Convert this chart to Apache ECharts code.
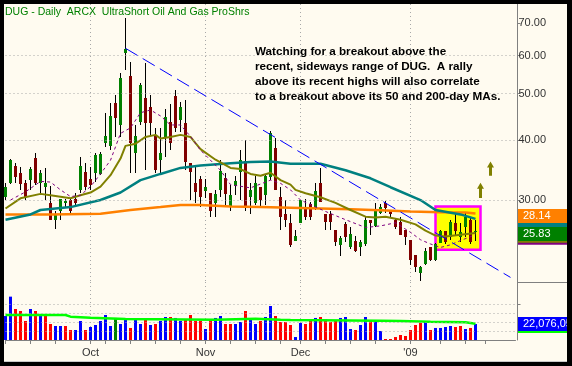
<!DOCTYPE html>
<html><head><meta charset="utf-8">
<script src="https://cdn.jsdelivr.net/npm/echarts@6/dist/echarts.min.js"></script>
<style>html,body{margin:0;padding:0;background:#000;}#c{width:572px;height:366px;}</style>
</head><body><div id="c"></div>
<script>
// ---------------- DATA ----------------
const dates = [
'2008-09-08','2008-09-09','2008-09-10','2008-09-11','2008-09-12','2008-09-15','2008-09-16','2008-09-17','2008-09-18','2008-09-19','2008-09-22','2008-09-23','2008-09-24','2008-09-25','2008-09-26','2008-09-29','2008-09-30',
'2008-10-01','2008-10-02','2008-10-03','2008-10-06','2008-10-07','2008-10-08','2008-10-09','2008-10-10','2008-10-13','2008-10-14','2008-10-15','2008-10-16','2008-10-17','2008-10-20','2008-10-21','2008-10-22','2008-10-23','2008-10-24','2008-10-27','2008-10-28','2008-10-29','2008-10-30','2008-10-31',
'2008-11-03','2008-11-04','2008-11-05','2008-11-06','2008-11-07','2008-11-10','2008-11-11','2008-11-12','2008-11-13','2008-11-14','2008-11-17','2008-11-18','2008-11-19','2008-11-20','2008-11-21','2008-11-24','2008-11-25','2008-11-26','2008-11-28',
'2008-12-01','2008-12-02','2008-12-03','2008-12-04','2008-12-05','2008-12-08','2008-12-09','2008-12-10','2008-12-11','2008-12-12','2008-12-15','2008-12-16','2008-12-17','2008-12-18','2008-12-19','2008-12-22','2008-12-23','2008-12-24','2008-12-26','2008-12-29','2008-12-30','2008-12-31',
'2009-01-02','2009-01-05','2009-01-06','2009-01-07','2009-01-08','2009-01-09','2009-01-12','2009-01-13','2009-01-14','2009-01-15','2009-01-16','2009-01-20','2009-01-21','2009-01-22'];
const futureDates = ['2009-01-23','2009-01-26','2009-01-27','2009-01-28','2009-01-29','2009-01-30','2009-02-02','2009-02-03'];

const opens = [30.4,32.6,35.4,34.1,32.6,33.0,36.7,32.6,31.9,29.6,
27.2,28.4,29.6,30.0,30.1,31.5,34.3,33.2,34.1,34.0,
39.4,38.9,47.8,43.0,60.7,54.4,37.6,43.6,48.9,46.9,
41.0,36.3,40.4,43.6,49.4,44.0,43.4,35.8,32.6,33.2,
31.3,31.0,29.6,31.5,33.3,29.2,32.1,34.3,36.2,30.4,
29.6,31.9,30.7,33.5,38.5,30.4,28.0,26.9,24.6,26.9,
28.9,29.4,28.9,32.6,28.0,28.1,26.0,24.2,26.7,23.9,
24.6,23.9,24.3,27.3,26.5,28.2,29.6,28.4,27.3,27.0,
26.0,24.8,23.0,21.1,22.1,23.9,22.5,24.4,25.9,25.1,
26.9,25.1,26.4,27.3,25.7];
const closes = [31.9,36.3,33.5,32.4,30.4,34.8,32.6,34.1,32.6,27.3,
28.0,30.1,29.8,28.5,29.6,35.3,31.9,32.3,37.2,37.4,
40.8,44.9,44.5,53.8,61.9,39.4,40.8,52.1,43.4,43.4,
34.6,37.6,44.7,39.4,42.4,46.9,36.0,34.3,31.2,30.4,
31.9,28.4,30.9,34.5,30.9,30.7,32.9,36.3,29.0,31.5,
32.6,30.0,33.6,41.4,31.5,27.7,27.3,24.2,25.2,30.0,
27.7,27.7,31.3,29.7,27.0,27.0,24.5,25.0,25.1,25.5,
23.5,24.5,27.3,26.9,28.5,29.0,28.9,28.0,26.3,25.4,
25.1,22.5,21.8,21.8,23.5,22.5,24.3,25.8,24.5,27.0,
25.8,25.7,27.6,24.5,25.83];
const highs = [32.6,36.5,35.8,35.1,33.0,35.1,37.6,34.6,35.0,32.1,
28.5,30.1,30.1,30.1,31.0,36.9,35.8,35.1,37.6,37.8,
45.5,47.8,49.6,55.2,71.8,58.1,43.0,52.6,57.9,49.6,
42.4,42.4,46.4,47.5,50.9,48.0,48.5,35.8,35.3,33.6,
33.2,31.0,31.5,36.3,34.1,32.3,33.6,38.1,40.0,32.6,
33.6,31.9,33.8,41.8,40.4,31.9,30.0,28.0,26.0,30.0,
30.1,29.7,32.6,35.0,28.0,28.4,26.0,25.2,27.0,26.4,
25.2,24.8,27.6,27.3,29.6,29.4,29.8,28.6,27.4,27.6,
26.0,24.8,23.0,21.9,23.8,23.9,24.4,26.0,25.9,27.2,
28.2,26.9,28.2,27.6,27.3];
const lows = [30.0,32.4,32.6,31.5,30.0,31.5,32.3,30.7,30.0,27.2,
26.1,27.2,28.9,28.2,29.0,31.0,31.5,31.5,32.7,33.8,
38.7,38.1,40.6,40.6,55.9,34.1,34.1,43.0,34.6,41.0,
34.1,34.1,36.9,38.1,41.6,41.6,34.6,30.0,29.6,29.0,
30.3,27.7,27.7,30.4,29.0,28.4,30.7,30.0,28.4,28.0,
29.3,29.0,29.3,33.0,31.5,26.0,26.4,23.9,24.6,26.9,
27.3,27.3,28.6,29.7,26.0,26.0,24.1,22.9,24.5,23.7,
23.4,22.9,24.1,25.4,26.4,28.0,28.2,27.6,26.1,25.4,
24.2,22.0,21.2,20.3,22.0,22.4,22.4,24.4,24.3,24.8,
25.4,24.5,25.1,24.3,24.6];
// volume in millions of shares
const volumes = [33.1,59.8,42.8,40.0,26.2,42.8,40.0,33.1,34.5,22.1,
19.3,19.3,19.3,13.8,13.8,26.2,13.8,17.9,20.7,26.2,
34.5,19.3,30.4,22.1,29.0,16.6,27.6,22.1,29.0,20.7,
22.1,26.2,31.7,31.7,30.4,26.2,29.0,34.5,26.2,26.2,
15.2,27.6,30.4,33.1,22.1,22.1,22.1,24.8,40.0,29.0,
22.1,26.2,31.7,46.9,33.1,24.8,24.8,20.7,4.1,23.5,
22.1,26.2,30.4,31.7,29.0,24.8,26.2,30.4,31.7,15.2,
13.8,20.7,31.7,27.6,26.2,12.4,1.4,1.4,4.1,6.9,
5.5,13.8,20.7,23.5,24.8,13.8,16.6,16.6,17.9,19.3,
17.9,19.3,15.2,16.6,22.076];
const volDir = ['u','u','d','d','d','u','d','u','d','d',
'u','u','d','d','u','u','d','u','u','u',
'u','u','n','u','u','d','u','u','d','u',
'd','u','u','d','u','u','d','d','d','d',
'u','d','u','u','d','d','u','u','d','u',
'u','d','u','u','d','d','d','d','u','u',
'd','d','u','d','d','d','d','u','u','u',
'd','u','u','d','u','u','d','d','d','d',
'd','d','d','d','u','d','u','u','u','u',
'd','d','u','d','u'];

const ma10 = [['2008-09-09',30.0],['2008-09-12',31.2],['2008-09-17',32.8],['2008-09-19',32.7],['2008-09-23',31.5],['2008-09-25',30.5],['2008-09-29',30.7],['2008-10-01',32.0],['2008-10-03',34.0],['2008-10-07',36.3],['2008-10-09',41.3],['2008-10-13',42.4],['2008-10-15',45.6],['2008-10-17',46.2],['2008-10-21',44.9],['2008-10-23',43.0],['2008-10-27',43.0],['2008-10-29',40.7],['2008-10-31',38.1],['2008-11-06',34.6],['2008-11-10',32.3],['2008-11-14',31.8],['2008-11-20',33.0],['2008-11-24',32.5],['2008-11-26',31.5],['2008-12-01',30.0],['2008-12-08',28.4],['2008-12-12',27.3],['2008-12-18',26.3],['2008-12-23',26.5],['2008-12-29',26.9],['2009-01-02',25.7],['2009-01-06',24.8],['2009-01-08',24.3],['2009-01-12',23.9],['2009-01-14',24.2],['2009-01-16',24.7],['2009-01-22',25.4]];
const ma20 = [['2008-09-08',28.8],['2008-09-11',30.25],['2008-09-17',30.9],['2008-09-19',30.7],['2008-09-25',30.25],['2008-09-29',30.7],['2008-10-01',31.1],['2008-10-03',32.0],['2008-10-07',33.8],['2008-10-09',36.6],['2008-10-10',38.9],['2008-10-14',39.3],['2008-10-16',40.6],['2008-10-20',41.0],['2008-10-21',40.3],['2008-10-23',40.6],['2008-10-27',41.0],['2008-10-29',40.6],['2008-10-30',39.4],['2008-10-31',38.3],['2008-11-05',36.4],['2008-11-10',35.0],['2008-11-12',34.8],['2008-11-14',34.0],['2008-11-18',33.7],['2008-11-20',34.2],['2008-11-24',33.0],['2008-11-26',32.3],['2008-11-28',31.5],['2008-12-02',31.0],['2008-12-05',30.4],['2008-12-10',29.6],['2008-12-15',28.6],['2008-12-18',27.7],['2008-12-22',27.6],['2008-12-24',27.7],['2008-12-30',27.3],['2009-01-05',26.7],['2009-01-07',25.9],['2009-01-09',25.3],['2009-01-13',25.2],['2009-01-22',25.6]];
const ma50 = [['2008-09-08',27.3],['2008-09-15',28.0],['2008-09-17',28.6],['2008-09-25',29.0],['2008-10-03',30.0],['2008-10-09',31.1],['2008-10-15',33.0],['2008-10-21',34.0],['2008-10-27',35.0],['2008-10-31',35.4],['2008-11-10',35.8],['2008-11-14',36.0],['2008-11-20',36.1],['2008-11-26',35.7],['2008-12-05',35.7],['2008-12-12',34.6],['2008-12-19',33.3],['2008-12-26',31.9],['2009-01-06',30.0],['2009-01-09',28.6],['2009-01-16',28.0],['2009-01-22',27.41]];
const ma200 = [['2008-09-08',28.0],['2008-09-19',28.0],['2008-10-03',28.1],['2008-10-13',28.6],['2008-10-21',29.0],['2008-10-27',29.3],['2008-10-31',29.3],['2008-11-10',29.1],['2008-11-18',29.0],['2008-11-26',28.9],['2008-12-05',28.8],['2008-12-15',28.7],['2008-12-23',28.55],['2009-01-02',28.4],['2009-01-12',28.3],['2009-01-20',28.25],['2009-01-22',28.14]];
const volMA = [['2008-09-08',34.5],['2008-09-23',34.5],['2008-09-24',32.2],['2008-09-25',30.8],['2008-10-01',29.0],['2008-10-10',28.0],['2008-11-05',29.4],['2008-11-17',28.0],['2008-11-24',27.6],['2008-11-26',26.6],['2008-12-23',26.2],['2008-12-30',25.3],['2009-01-08',24.4],['2009-01-20',22.5],['2009-01-22',22.5]];

const priceTicks = [30, 40, 50, 60, 70];
const priceGrid = [30, 40, 50, 60];
const volGrid = [12.5, 25, 37.5, 50];
const lastValues = {ma200: 28.14, ma50: 27.41, close: 25.83, ma20: 25.60, ma10: 25.40, volume: '22,076,051', volMA: 22.5};
const trendLine = [['2008-10-10', 62.1], ['2009-02-02', 20.7]];
const boxRange = {from: '2009-01-09', to: '2009-01-23', high: 29.1, low: 23.63};
const arrows = [{date: '2009-01-23', from: 30.3, to: 32.6}, {date: '2009-01-27', from: 33.7, to: 36.1}];
const title = 'DUG - Daily  ARCX  UltraShort Oil And Gas ProShrs';
const note = ['Watching for a breakout above the', 'recent, sideways range of DUG.  A rally', 'above its recent highs will also correlate', 'to a breakout above its 50 and 200-day MAs.'];

// ---------------- CHART ----------------
const allDates = dates.concat(futureDates);
const FONT = '"Liberation Sans", Arial, sans-serif';
const monthNames = ['Jan','Feb','Mar','Apr','May','Jun','Jul','Aug','Sep','Oct','Nov','Dec'];
function isMonthStart(i){ return i>0 && i<dates.length && allDates[i].slice(0,7)!==allDates[i-1].slice(0,7); }
function dow(i){ return new Date(allDates[i]+'T00:00:00Z').getUTCDay(); }
function weekStart(i){ return i===0 || dow(i) <= dow(i-1); }
function isTick(i){
  if (i > 100) return false;
  if (isMonthStart(i)) return true;
  if (!weekStart(i)) return false;
  for (let k=i-2;k<=i+3;k++){ if (k!==i && k>=0 && isMonthStart(k)) return false; }
  return true;
}
function monthLabel(v){
  const m = parseInt(v.slice(5,7),10);
  if (m===1) return "'" + v.slice(2,4);
  return monthNames[m-1];
}
const candleData = dates.map((d,i)=>[i, opens[i], closes[i], lows[i], highs[i]]);
const volColors = {u:'#0000ff', d:'#ff0000', n:'#008000'};
const dotted = {color:'#a8a8a8', type:[1,3], width:1};

const chart = echarts.init(document.getElementById('c'));
chart.setOption({
  animation:false,
  backgroundColor:'#fffbf0',
  textStyle:{fontFamily:FONT},
  grid:[{left:5.5, top:4, width:510, height:278},{left:5.5, top:282, width:510, height:58}],
  xAxis:[
    {type:'category', gridIndex:0, data:allDates, boundaryGap:false,
     axisLine:{show:false}, axisTick:{show:false}, axisLabel:{show:false},
     splitLine:{show:true, interval:(i)=>isMonthStart(i), lineStyle:dotted}},
    {type:'category', gridIndex:1, data:allDates, boundaryGap:false,
     axisLine:{show:true, lineStyle:{color:'#808080'}},
     axisTick:{show:true, interval:(i)=>isTick(i), length:4, lineStyle:{color:'#808080'}},
     axisLabel:{show:true, interval:(i)=>isMonthStart(i), formatter:monthLabel, color:'#333', fontSize:11, fontFamily:FONT, margin:7},
     splitLine:{show:true, interval:(i)=>isMonthStart(i), lineStyle:dotted}}
  ],
  yAxis:[
    {type:'log', gridIndex:0, position:'right', offset:2, min:20.25, max:76.8,
     axisLine:{show:true, lineStyle:{color:'#808080'}},
     axisTick:{show:true, customValues:priceTicks, length:3, lineStyle:{color:'#808080'}},
     axisLabel:{show:true, customValues:priceTicks, formatter:(v)=>Number(v).toFixed(2), color:'#333', fontSize:11, fontFamily:FONT, margin:1},
     splitLine:{show:false}},
    {type:'value', gridIndex:1, position:'right', offset:2, min:0, max:80,
     axisLine:{show:true, lineStyle:{color:'#808080'}},
     axisTick:{show:true, customValues:[25,50], length:3, lineStyle:{color:'#808080'}},
     axisLabel:{show:false},
     splitLine:{show:false}}
  ],
  series:[
    {type:'line', xAxisIndex:0, yAxisIndex:0, data:[], z:1, silent:true,
     markLine:{silent:true, symbol:'none', label:{show:false}, lineStyle:dotted, animation:false,
       data: priceGrid.map(v=>({yAxis:v}))},
     markArea:{silent:true, itemStyle:{color:'#ffff00', borderColor:'#ff00ff', borderWidth:2.5},
       data:[[{coord:[boxRange.from, boxRange.high]},{coord:[boxRange.to, boxRange.low]}]]}},
    {type:'custom', xAxisIndex:0, yAxisIndex:0, z:3, data:candleData,
     encode:{x:0, y:[1,2,3,4]},
     renderItem:function(params, api){
       const i = api.value(0), o = api.value(1), c = api.value(2), l = api.value(3), h = api.value(4);
       const po = api.coord([i,o]), pc = api.coord([i,c]), pl = api.coord([i,l]), ph = api.coord([i,h]);
       const x = po[0];
       let top = Math.round(Math.min(po[1], pc[1])), bot = Math.round(Math.max(po[1], pc[1]));
       if (bot - top < 1) bot = top + 1;
       return {type:'group', children:[
         {type:'line', shape:{x1:x, y1:Math.round(ph[1]), x2:x, y2:Math.round(pl[1])}, style:{stroke:'#000', lineWidth:1}},
         {type:'rect', shape:{x:x-1.5, y:top, width:3, height:bot-top}, style:{fill: c>=o ? '#008000' : '#800000'}}
       ]};
     }},
    {type:'line', xAxisIndex:0, yAxisIndex:0, data:ma200, showSymbol:false, z:4, lineStyle:{color:'#ff8000', width:2.5}},
    {type:'line', xAxisIndex:0, yAxisIndex:0, data:ma50, showSymbol:false, z:4, lineStyle:{color:'#008080', width:2.5}},
    {type:'line', xAxisIndex:0, yAxisIndex:0, data:ma20, showSymbol:false, z:4, lineStyle:{color:'#808000', width:2}},
    {type:'line', xAxisIndex:0, yAxisIndex:0, data:ma10, showSymbol:false, z:4, lineStyle:{color:'#800080', width:1, type:[3,3]}},
    {type:'line', xAxisIndex:0, yAxisIndex:0, data:[], z:5, silent:true,
     markLine:{silent:true, symbol:'none', label:{show:false}, lineStyle:{color:'#0000ff', width:1, type:[14,6]},
       data:[[{coord:trendLine[0]},{coord:trendLine[1]}]]}},
    {type:'bar', xAxisIndex:1, yAxisIndex:1, barWidth:3, z:3,
     data: volumes.map((v,i)=>({value:v, itemStyle:{color:volColors[volDir[i]]}})),
     markLine:{silent:true, symbol:'none', label:{show:false}, lineStyle:dotted, data: volGrid.map(v=>({yAxis:v}))}},
    {type:'line', xAxisIndex:1, yAxisIndex:1, data:volMA, step:'end', showSymbol:false, z:4, lineStyle:{color:'#00ff00', width:2.5}}
  ]
});

// annotations positioned through the chart's own scales
const px = (d, v) => chart.convertToPixel({xAxisIndex:0, yAxisIndex:0}, [d, v]);
const arrowEls = arrows.map(a => {
  const p1 = px(a.date, a.from), p2 = px(a.date, a.to);
  const x = p1[0], yb = p1[1], yt = p2[1];
  return {type:'polygon', z:20, shape:{points:[[x, yt],[x+3.5, yt+6],[x+1.5, yt+6],[x+1.5, yb],[x-1.5, yb],[x-1.5, yt+6],[x-3.5, yt+6]]}, style:{fill:'#808000'}};
});
function box(y, color, text, z){
  return [
    {type:'rect', z:z, shape:{x:518, y:y, width:50, height:14}, style:{fill:color}},
    {type:'text', z:z, x:523, y:y+7, style:{text:text, fill:'#fff', font:'11px '+FONT, verticalAlign:'middle'}}
  ];
}
chart.setOption({graphic:[
  {type:'text', left:5, top:7, z:20, style:{text:title, fill:'#008000', font:'10.5px '+FONT}},
  {type:'text', left:255, top:44, z:20, style:{text:note.join('\n'), fill:'#000', font:'bold 11.7px '+FONT, lineHeight:15}},
  ...arrowEls,
  ...box(230.7, '#800080', lastValues.ma10.toFixed(2), 30),
  ...box(228.7, '#808000', lastValues.ma20.toFixed(2), 31),
  ...box(213, '#008080', lastValues.ma50.toFixed(2), 32),
  ...box(209, '#ff8000', lastValues.ma200.toFixed(2), 33),
  ...box(227, '#008000', lastValues.close.toFixed(2), 34),
  ...box(319, '#00ff00', lastValues.volMA.toFixed(2), 35),
  ...box(317, '#0000ff', lastValues.volume, 36),
  {type:'line', z:37, shape:{x1:517, y1:282.5, x2:567, y2:282.5}, style:{stroke:'#808080', lineWidth:1}},
  {type:'line', z:37, shape:{x1:4, y1:361.5, x2:567, y2:361.5}, style:{stroke:'#c8c8c8', lineWidth:1}},
  {type:'rect', z:50, shape:{x:0, y:0, width:572, height:4}, style:{fill:'#000'}},
  {type:'rect', z:50, shape:{x:0, y:0, width:4, height:366}, style:{fill:'#000'}},
  {type:'rect', z:50, shape:{x:567, y:0, width:5, height:366}, style:{fill:'#000'}},
  {type:'rect', z:50, shape:{x:0, y:362, width:572, height:4}, style:{fill:'#000'}}
]});
</script></body></html>
